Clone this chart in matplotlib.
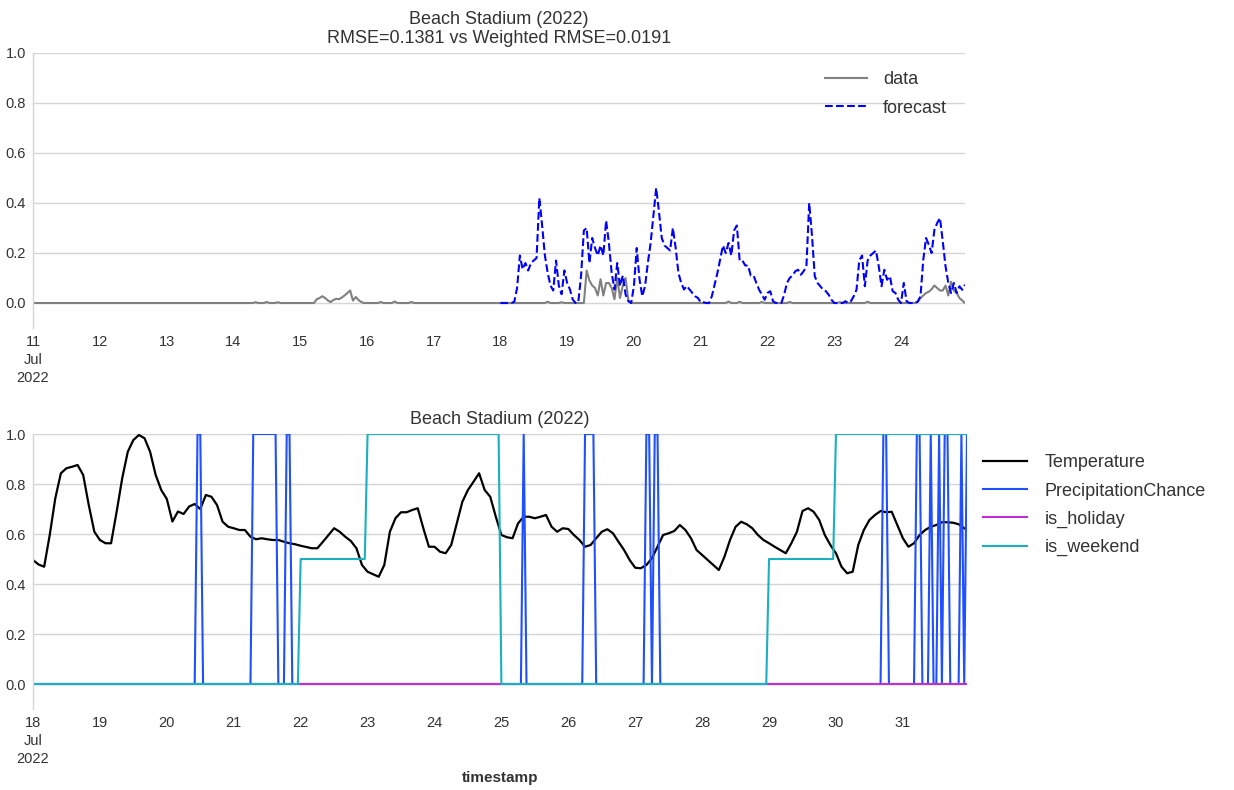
import numpy as np
import pandas as pd
import matplotlib
matplotlib.use("Agg")
import matplotlib.pyplot as plt

# ---- top panel: observed vs forecast (hourly, 11-24 Jul 2022) ----
top_start = "2022-07-11"
top_hours = 336

# observed series is ~0 except for these hours (hour index from 11 Jul 00:00)
data_hours = [80, 84, 88,
              102, 103, 104, 105, 106, 107, 108, 109, 110, 111, 112, 113, 114, 115, 116, 117, 118,
              125, 130, 136, 185, 190,
              199, 200, 201, 202, 203, 204, 205, 206, 207, 208, 209, 210, 211, 212, 213, 214,
              250, 254, 262, 272, 290, 300,
              318, 319, 320, 321, 322, 323, 324, 325, 326, 327, 328, 329, 330, 331, 332, 333, 334]
data_vals = [0.003, 0.004, 0.003,
             0.015, 0.02, 0.027, 0.02, 0.01, 0.004, 0.012, 0.017, 0.015, 0.022, 0.03, 0.04, 0.05, 0.01, 0.024, 0.012, 0.004,
             0.004, 0.006, 0.004, 0.005, 0.003,
             0.13, 0.09, 0.07, 0.06, 0.03, 0.095, 0.03, 0.08, 0.08, 0.06, 0.015, 0.10, 0.02, 0.07, 0.10, 0.01,
             0.006, 0.005, 0.004, 0.004, 0.003, 0.005,
             0.005, 0.02, 0.03, 0.04, 0.045, 0.055, 0.07, 0.06, 0.05, 0.05, 0.07, 0.03, 0.085, 0.05, 0.04, 0.02, 0.01]

# forecast starts at 18 Jul 00:00 (hour 168)
forecast_first_hour = 168
forecast_vals = [
    0, 0, 0, 0, 0, 0.005, 0.06, 0.19, 0.135, 0.16, 0.13, 0.16,
    0.17, 0.18, 0.42, 0.31, 0.19, 0.12, 0.07, 0.05, 0.17, 0.07, 0.035, 0.13,
    0.08, 0.054, 0.014, 0, 0.003, 0.11, 0.29, 0.30, 0.16, 0.26, 0.22, 0.19,
    0.23, 0.19, 0.33, 0.24, 0.12, 0.054, 0.16, 0.068, 0.11, 0.034, 0.007, 0,
    0.068, 0.22, 0.095, 0.027, 0.068, 0.16, 0.24, 0.35, 0.46, 0.365, 0.26, 0.23,
    0.22, 0.21, 0.30, 0.22, 0.12, 0.08, 0.054, 0.068, 0.054, 0.04, 0.027, 0.02,
    0.003, 0.003, 0, 0, 0.027, 0.074, 0.12, 0.176, 0.23, 0.2, 0.24, 0.19,
    0.29, 0.31, 0.17, 0.17, 0.15, 0.15, 0.11, 0.11, 0.08, 0.053, 0.033, 0.013,
    0.04, 0.047, 0.007, 0, 0, 0, 0.033, 0.08, 0.1, 0.11, 0.127, 0.133,
    0.113, 0.127, 0.147, 0.40, 0.27, 0.107, 0.08, 0.067, 0.053, 0.047, 0.033, 0.013,
    0, 0, 0, 0, 0.007, 0, 0.007, 0.027, 0.053, 0.17, 0.19, 0.067,
    0.17, 0.19, 0.2, 0.21, 0.147, 0.067, 0.133, 0.093, 0.107, 0.047, 0.04, 0.013,
    0, 0.08, 0.007, 0, 0, 0, 0.005, 0.027, 0.173, 0.26, 0.233, 0.2,
    0.293, 0.32, 0.34, 0.247, 0.147, 0.08, 0.04, 0.08, 0.04, 0.067, 0.053, 0.073]

top_title = "Beach Stadium (2022)\nRMSE=0.1381 vs Weighted RMSE=0.0191"

# ---- bottom panel: exogenous features (18-31 Jul 2022) ----
bot_start = "2022-07-18"
bot_hours = 336

# temperature read every 2 hours
temperature = [
    0.496, 0.478, 0.469, 0.596, 0.743, 0.843, 0.863, 0.869, 0.876, 0.836, 0.716, 0.609,
    0.576, 0.563, 0.563, 0.689, 0.823, 0.929, 0.976, 0.996, 0.983, 0.929, 0.836, 0.776,
    0.74, 0.65, 0.69, 0.68, 0.71, 0.72, 0.70, 0.756, 0.749, 0.716, 0.649, 0.629,
    0.623, 0.616, 0.616, 0.589, 0.579, 0.583, 0.579, 0.576, 0.576, 0.569, 0.563, 0.559,
    0.553, 0.548, 0.543, 0.543, 0.569, 0.596, 0.623, 0.609, 0.589, 0.572, 0.543, 0.476,
    0.449, 0.439, 0.429, 0.476, 0.609, 0.663, 0.687, 0.687, 0.696, 0.703, 0.623, 0.549,
    0.549, 0.529, 0.523, 0.556, 0.643, 0.729, 0.776, 0.809, 0.843, 0.776, 0.749, 0.669,
    0.596, 0.587, 0.583, 0.643, 0.669, 0.669, 0.663, 0.669, 0.676, 0.629, 0.609, 0.623,
    0.62, 0.596, 0.576, 0.549, 0.556, 0.583, 0.609, 0.619, 0.603, 0.569, 0.536, 0.496,
    0.465, 0.463, 0.476, 0.503, 0.55, 0.596, 0.603, 0.612, 0.636, 0.616, 0.583, 0.536,
    0.516, 0.496, 0.476, 0.456, 0.509, 0.576, 0.629, 0.649, 0.639, 0.623, 0.596, 0.576,
    0.563, 0.549, 0.536, 0.523, 0.563, 0.609, 0.692, 0.703, 0.689, 0.656, 0.596, 0.556,
    0.523, 0.469, 0.443, 0.449, 0.556, 0.616, 0.656, 0.676, 0.692, 0.687, 0.689, 0.636,
    0.583, 0.549, 0.563, 0.596, 0.616, 0.629, 0.636, 0.647, 0.647, 0.645, 0.639, 0.623]

# hours (from 18 Jul 00:00) where precipitation chance == 1
rain_hours = [59, 60, 79, 80, 81, 82, 83, 84, 85, 86, 87, 91, 92,
              176, 198, 199, 200, 201, 220, 221, 223, 224,
              305, 306, 317, 318, 322, 325, 327, 328, 333, 335]

# one value per day, 18 Jul .. 31 Jul
weekend_daily = [0, 0, 0, 0, 0.5, 1, 1, 0, 0, 0, 0, 0.5, 1, 1]
holiday_daily = [0] * 14

bot_title = "Beach Stadium (2022)"

# ---- build series ----
t_top = pd.date_range(top_start, periods=top_hours, freq="h")
data = np.zeros(top_hours)
data[data_hours] = data_vals
forecast = np.full(top_hours, np.nan)
forecast[forecast_first_hour:forecast_first_hour + len(forecast_vals)] = forecast_vals

t_bot = pd.date_range(bot_start, periods=bot_hours, freq="h")
t_temp = pd.date_range(bot_start, periods=len(temperature), freq="2h")
precip = np.zeros(bot_hours)
precip[rain_hours] = 1
weekend = np.repeat(weekend_daily, 24)
holiday = np.repeat(holiday_daily, 24)

# ---- styling ----
txt = "#333333"
plt.rcParams["font.family"] = ["Liberation Sans", "DejaVu Sans"]
tick_size = 10.5

fig = plt.figure(figsize=(12.34, 7.9), dpi=100)
ax1 = fig.add_axes([33 / 1234, 1 - 328 / 790, 932 / 1234, 275 / 790])
ax2 = fig.add_axes([33 / 1234, 1 - 709 / 790, 934 / 1234, 275 / 790])


def style_axes(ax, start, hours):
    ax.set_ylim(-0.1, 1.0)
    ax.set_xlim(pd.Timestamp(start), pd.Timestamp(start) + pd.Timedelta(hours=hours - 1))
    ax.set_yticks([0.0, 0.2, 0.4, 0.6, 0.8, 1.0])
    ax.set_yticklabels(["0.0", "0.2", "0.4", "0.6", "0.8", "1.0"], fontsize=tick_size, color=txt)
    days = pd.date_range(start, periods=hours // 24, freq="D")
    labels = [d.strftime("%d").lstrip("0") for d in days]
    labels[0] = labels[0] + "\n" + days[0].strftime("%b") + "\n" + days[0].strftime("%Y")
    ax.set_xticks(days)
    ax.set_xticklabels(labels, fontsize=tick_size, color=txt, va="top", linespacing=1.35)
    ax.tick_params(length=0, pad=5)
    ax.grid(axis="y", color="#d5d5d5", linewidth=1)
    ax.grid(axis="x", visible=False)
    ax.set_axisbelow(True)
    for s in ["top", "right", "bottom"]:
        ax.spines[s].set_visible(False)
    ax.spines["left"].set_color("#d5d5d5")
    ax.spines["left"].set_linewidth(1)


style_axes(ax1, top_start, top_hours)
ax1.plot(t_top, data, color="#808080", linewidth=1.5, label="data")
ax1.plot(t_top, forecast, color="blue", linestyle="--", linewidth=1.5, label="forecast")
ax1.set_title(top_title, fontsize=13, color=txt, pad=7, linespacing=1.15)
leg1 = ax1.legend(loc="upper right", frameon=False, fontsize=13, handlelength=2.3,
                  handletextpad=0.9, borderaxespad=0.6, labelspacing=0.65)
for t in leg1.get_texts():
    t.set_color(txt)

style_axes(ax2, bot_start, bot_hours)
ax2.plot(t_temp, temperature, color="black", linewidth=1.6, label="Temperature")
ax2.plot(t_bot, precip, color="#1f4fff", linewidth=1.5, label="PrecipitationChance")
ax2.plot(t_bot, holiday, color="#c030d0", linewidth=1.5, label="is_holiday")
ax2.plot(t_bot, weekend, color="#1ab0c0", linewidth=1.5, label="is_weekend")
ax2.set_title(bot_title, fontsize=13, color=txt, pad=7)
ax2.set_xlabel("timestamp", fontsize=11, fontweight="bold", color=txt, labelpad=4)
leg2 = ax2.legend(loc="upper left", bbox_to_anchor=(1.0, 0.985), frameon=False, fontsize=13,
                  handlelength=2.4, handletextpad=1.0, labelspacing=0.62)
for t in leg2.get_texts():
    t.set_color(txt)

fig.savefig("out.png", dpi=100)
